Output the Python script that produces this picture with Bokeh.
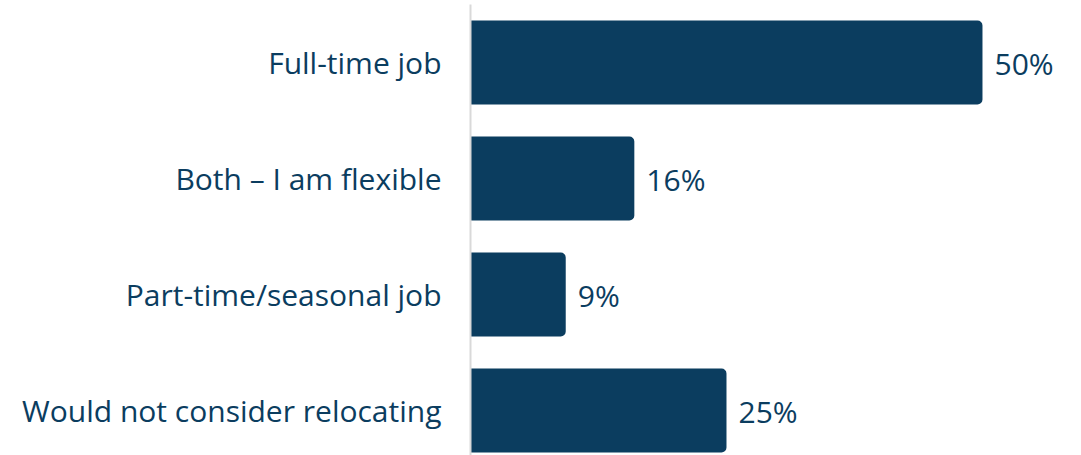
from bokeh.plotting import figure
from bokeh.models import Range1d, FixedTicker, ColumnDataSource
from bokeh.core.properties import value
from bokeh.embed import file_html
from bokeh.resources import INLINE

categories = ["Full-time job", "Both – I am flexible", "Part-time/seasonal job", "Would not consider relocating"]
values = [50, 16, 9.3, 25]
value_labels = ["50%", "16%", "9%", "25%"]

NAVY = "#0b3d5f"
FONT = "Open Sans"

ys = list(range(len(categories)))
src = ColumnDataSource(dict(y=ys, v=values, lab=value_labels))

p = figure(width=1081, height=455, output_backend="svg", toolbar_location=None,
           x_range=Range1d(0, 59.67), y_range=Range1d(3.388, -0.5),
           min_border_left=470, min_border_right=0, min_border_top=4, min_border_bottom=0)

p.hbar(y="y", right="v", left=0, height=0.724, source=src, color=NAVY,
       line_color=None, border_radius=(0, 5, 5, 0))
p.text(x="v", y="y", text="lab", source=src, x_offset=12, y_offset=1, text_baseline="middle",
       text_align="left", text_font=value(FONT), text_font_size="30px", text_color=NAVY)

p.xaxis.visible = False
p.xgrid.visible = False
p.ygrid.visible = False
p.outline_line_color = None

ax = p.yaxis[0]
ax.ticker = FixedTicker(ticks=ys)
ax.major_label_overrides = {i: c for i, c in enumerate(categories)}
ax.major_tick_line_color = None
ax.minor_tick_line_color = None
ax.major_tick_out = 0
ax.major_tick_in = 0
ax.axis_line_color = "#d9d9d9"
ax.axis_line_width = 2
ax.major_label_standoff = 29
ax.major_label_text_font = FONT
ax.major_label_text_font_size = "30px"
ax.major_label_text_color = NAVY

open("out.html", "w").write(file_html(p, INLINE))
